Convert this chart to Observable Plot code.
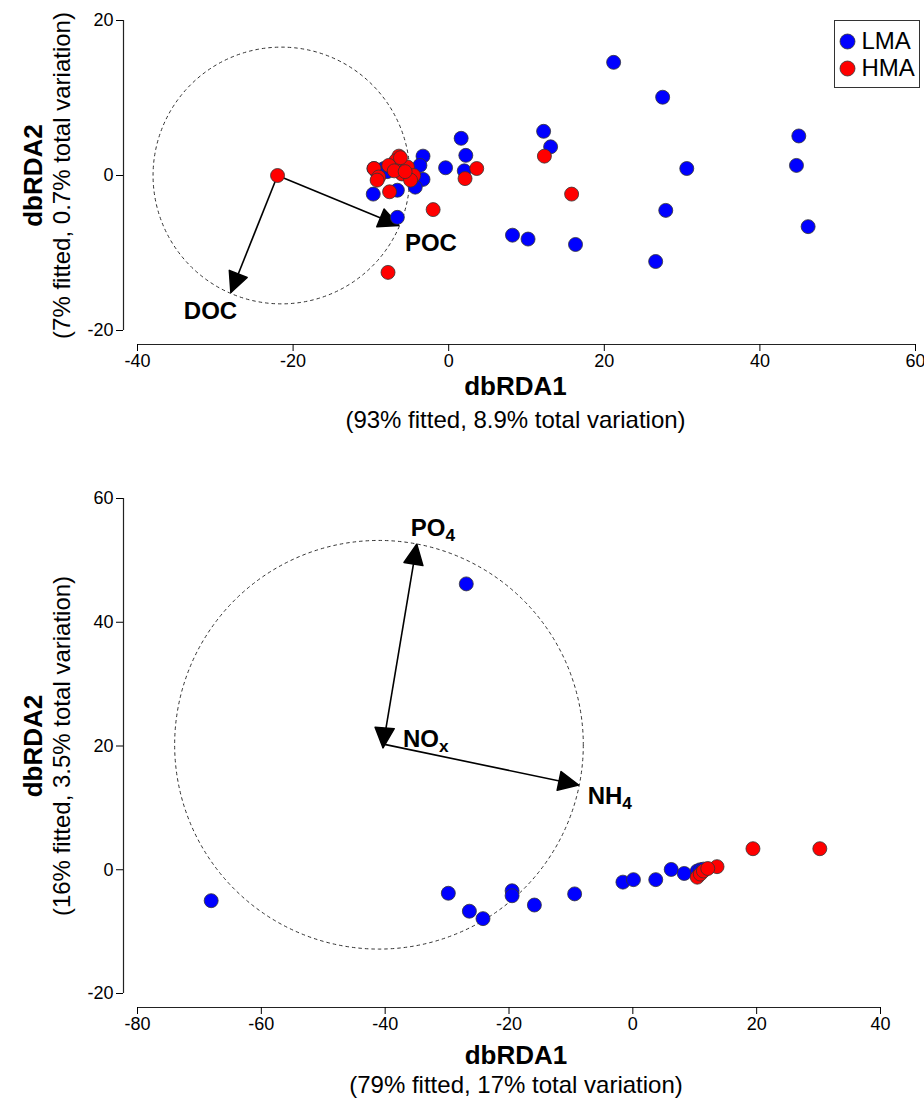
<!DOCTYPE html>
<html><head><meta charset="utf-8">
<script src="https://cdn.jsdelivr.net/npm/d3@7"></script>
<script src="https://cdn.jsdelivr.net/npm/@observablehq/plot@0.6"></script>
<style>
html,body{margin:0;padding:0;background:#fff;}
svg{display:block;}
</style></head><body><div id="chart"></div>
<script>
// ---------- data ----------
const groups = ["LMA", "HMA"];
const groupColors = ["#0000ff", "#ff0000"];

// top panel (POC / DOC)
const topLMA = [[21.2,14.6],[27.5,10.1],[12.2,5.7],[13.1,3.7],[30.6,0.9],[45.0,5.1],[44.7,1.3],[46.2,-6.6],[27.9,-4.5],[16.3,-8.9],[26.6,-11.1],[8.2,-7.7],[10.2,-8.2],[1.6,4.8],[2.2,2.6],[2.0,0.6],[-0.4,1.0],[-3.3,2.5],[-3.7,1.3],[-3.3,-0.5],[-4.3,-1.5],[-6.6,-1.9],[-6.6,-5.4],[-9.7,-2.4],[-9.6,0.9],[-8.3,0.9],[-8.8,0.7],[-7.9,0.5],[-9.2,0.4]];
const topHMA = [[-22.0,0],[12.3,2.5],[15.8,-2.4],[3.6,0.9],[2.1,-0.4],[-2.0,-4.4],[-7.8,-12.5],[-7.6,-2.1],[-6.4,2.5],[-6.8,1.9],[-5.3,1.1],[-6.0,0.2],[-4.5,0],[-4.9,-0.6],[-9.6,0.9],[-9.0,-0.2],[-9.2,-0.6],[-7.7,1.3],[-7.0,0.6],[-6.2,2.3],[-5.6,0.5]];
const topVecNames = ["POC", "DOC"];
const topVecOrigin = [-22.0, 0];
const topVecTips = [[-6.4,-6.45],[-28.0,-15.1]];
const topCircleCenter = [-21.5, 0];
const topCircleRadius = 16.5;
const topXTicks = [-40,-20,0,20,40,60];
const topYTicks = [-20,0,20];

// bottom panel (PO4 / NOx / NH4)
const botLMA = [[-68.1,-5.0],[-26.9,46.2],[-29.8,-3.8],[-26.4,-6.7],[-24.2,-7.9],[-19.5,-3.4],[-19.5,-4.2],[-15.9,-5.7],[-9.4,-3.9],[-1.6,-2.0],[0.1,-1.6],[3.7,-1.6],[6.2,0.05],[8.3,-0.6],[10.4,-0.2],[10.9,0],[11.4,0.1]];
const botHMA = [[19.4,3.4],[30.2,3.4],[13.6,0.5],[10.4,-1.2],[10.9,-0.7],[11.4,-0.2],[12.1,0.2]];
const botVecNames = ["PO4", "NOx", "NH4"];
const botVecOrigin = [-40.3, 20.3];
const botVecTips = [[-34.9,52.6],[-40.35,19.7],[-8.75,13.7]];
const botCircleCenter = [-41.0, 20.2];
const botCircleRadius = 33.0;
const botXTicks = [-80,-60,-40,-20,0,20,40];
const botYTicks = [-20,0,20,40,60];

const topTitles = {x: "dbRDA1", xSub: "(93% fitted, 8.9% total variation)", y: "dbRDA2", ySub: "(7% fitted, 0.7% total variation)"};
const botTitles = {x: "dbRDA1", xSub: "(79% fitted, 17% total variation)", y: "dbRDA2", ySub: "(16% fitted, 3.5% total variation)"};

// ---------- layout ----------
const W = 924;
const FONT = "'Liberation Sans', Arial, Helvetica, sans-serif";
const axisOff = 14;

const headShape = {
  draw(context, l) {
    const w = l * 0.48;
    context.moveTo(0, -l);
    context.lineTo(-w, 0);
    context.lineTo(w, 0);
    context.closePath();
  }
};

function panel(cfg) {
  const {height, mt, mb, ml, mr, xTicks, yTicks, lma, hma, vecNames, origin, tips, circleCenter, radius, labelOffsets, titles, lay, legend} = cfg;
  const xDom = [xTicks[0], xTicks[xTicks.length - 1]];
  const yDom = [yTicks[0], yTicks[yTicks.length - 1]];
  const pxPerUnit = (W - ml - mr) / (xDom[1] - xDom[0]);
  const pts = [
    ...lma.map(([x, y]) => ({x, y, g: "LMA"})),
    ...hma.map(([x, y]) => ({x, y, g: "HMA"}))
  ];
  const vecs = vecNames.map((name, i) => ({name, ox: origin[0], oy: origin[1], tx: tips[i][0], ty: tips[i][1]}));
  const fmt = d => String(d);
  const marks = [
    Plot.ruleY([yDom[0]], {x1: xDom[0], x2: xDom[1], dy: axisOff, stroke: "#222", strokeWidth: 1.2}),
    Plot.ruleX([xDom[0]], {y1: yDom[0], y2: yDom[1], dx: -axisOff, stroke: "#222", strokeWidth: 1.2}),
    Plot.axisX(xTicks, {anchor: "bottom", tickSize: 7, tickPadding: 3, dy: axisOff, tickFormat: fmt, fontSize: 18, label: null}),
    Plot.axisY(yTicks, {anchor: "left", tickSize: 7, tickPadding: 3, dx: -axisOff, tickFormat: fmt, fontSize: 18, label: null}),
    Plot.dot([circleCenter], {x: d => d[0], y: d => d[1], r: radius * pxPerUnit, fill: "none", stroke: "#333", strokeWidth: 1, strokeDasharray: "3.5,3"}),
    Plot.link(vecs, {x1: "ox", y1: "oy", x2: "tx", y2: "ty", stroke: "black", strokeWidth: 1.6}),
    Plot.vector(vecs, {x: "tx", y: "ty", rotate: d => Math.atan2(d.tx - d.ox, d.ty - d.oy) * 180 / Math.PI, length: 20, anchor: "end", shape: headShape, fill: "black", stroke: "black"}),
    Plot.dot(pts, {x: "x", y: "y", fill: "g", r: 7, stroke: "#333", strokeWidth: 0.8}),
    ...vecs.map((v, i) => Plot.text([v], {x: "tx", y: "ty", text: "name", dx: labelOffsets[i][0], dy: labelOffsets[i][1], textAnchor: "start", fontWeight: "bold", fontSize: 24})),
    Plot.text([titles.x], {text: d => d, frameAnchor: "bottom", textAnchor: "middle", lineAnchor: "middle", dx: lay.xDx, dy: lay.xTitleDy, fontWeight: "bold", fontSize: 26}),
    Plot.text([titles.xSub], {text: d => d, frameAnchor: "bottom", textAnchor: "middle", lineAnchor: "middle", dx: lay.xDx, dy: lay.xSubDy, fontSize: 24}),
    Plot.text([titles.y], {text: d => d, frameAnchor: "left", textAnchor: "middle", lineAnchor: "middle", rotate: -90, dx: lay.yTitleDx, fontWeight: "bold", fontSize: 26}),
    Plot.text([titles.ySub], {text: d => d, frameAnchor: "left", textAnchor: "middle", lineAnchor: "middle", rotate: -90, dx: lay.ySubDx, fontSize: 24})
  ];
  if (legend) {
    marks.push(
      Plot.frame({insetLeft: legend.boxLeft - ml, insetRight: -(legend.boxRight - (W - mr)), insetTop: legend.boxTop - mt, insetBottom: (height - mb) - legend.boxBottom, stroke: "#333", strokeWidth: 1}),
      ...groups.map((g, i) => Plot.dot([g], {frameAnchor: "top-right", dx: legend.dotX - (W - mr), dy: legend.rowY[i] - mt, r: 7.5, fill: groupColors[i], stroke: "#333", strokeWidth: 0.8})),
      ...groups.map((g, i) => Plot.text([g], {text: d => d, frameAnchor: "top-right", dx: legend.textX - (W - mr), dy: legend.rowY[i] - mt, textAnchor: "start", lineAnchor: "middle", fontSize: 24}))
    );
  }
  const svg = Plot.plot({
    width: W, height,
    marginTop: mt, marginBottom: mb, marginLeft: ml, marginRight: mr,
    x: {domain: xDom},
    y: {domain: yDom},
    color: {domain: groups, range: groupColors},
    style: {fontFamily: FONT, fontSize: "18px", color: "black", background: "white", overflow: "visible"},
    marks
  });
  for (const t of svg.querySelectorAll("text")) {
    const m = t.textContent.match(/^(PO|NO|NH)(4|x)$/);
    if (m) t.innerHTML = `${m[1]}<tspan dy="0.3em" font-size="0.72em">${m[2]}</tspan>`;
  }
  return svg;
}

const chart = document.getElementById("chart");
chart.append(panel({
  height: 440, mt: 20, mb: 110, ml: 137, mr: 9,
  xTicks: topXTicks, yTicks: topYTicks, lma: topLMA, hma: topHMA,
  vecNames: topVecNames, origin: topVecOrigin, tips: topVecTips, circleCenter: topCircleCenter, radius: topCircleRadius,
  labelOffsets: [[6, 18], [-47, 19]],
  titles: topTitles,
  lay: {xDx: -11, xTitleDy: 56, xSubDy: 90, yTitleDx: -104, ySubDx: -75},
  legend: {boxLeft: 834, boxRight: 919, boxTop: 20, boxBottom: 87, dotX: 847, textX: 861, rowY: [41, 68]}
}));
chart.append(panel({
  height: 659, mt: 58, mb: 106, ml: 137, mr: 44,
  xTicks: botXTicks, yTicks: botYTicks, lma: botLMA, hma: botHMA,
  vecNames: botVecNames, origin: botVecOrigin, tips: botVecTips, circleCenter: botCircleCenter, radius: botCircleRadius,
  labelOffsets: [[-6, -16], [20, -9], [9, 11]],
  titles: botTitles,
  lay: {xDx: 7, xTitleDy: 62, xSubDy: 92, yTitleDx: -104, ySubDx: -75},
  legend: null
}));
</script></body></html>
